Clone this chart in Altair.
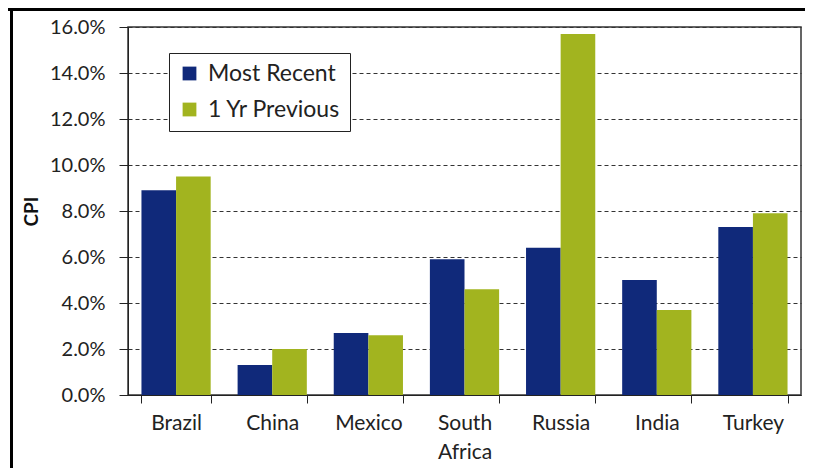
import altair as alt
import pandas as pd

countries = ["Brazil", "China", "Mexico", "South Africa", "Russia", "India", "Turkey"]
most_recent = [8.9, 1.3, 2.7, 5.9, 6.4, 5.0, 7.3]
one_yr_prev = [9.5, 2.0, 2.6, 4.6, 15.7, 3.7, 7.9]
series_names = ["Most Recent", "1 Yr Previous"]
y_ticks = [0, 2, 4, 6, 8, 10, 12, 14, 16]

rows = []
for c, a, b in zip(countries, most_recent, one_yr_prev):
    rows.append({"country": c, "series": series_names[0], "value": a / 100})
    rows.append({"country": c, "series": series_names[1], "value": b / 100})
df = pd.DataFrame(rows)

FONT = "Lato"
W, H = 673, 368

bars = alt.Chart(df).mark_bar().encode(
    x=alt.X("country:N", sort=countries,
            scale=alt.Scale(paddingInner=0.28, paddingOuter=0.14),
            axis=alt.Axis(title=None, labelAngle=0, labelFontSize=21, labelFont=FONT,
                          labelColor="#222222", labelPadding=9, tickSize=8,
                          tickBand="extent", tickColor="#222222", domainColor="#222222",
                          labelLineHeight=29,
                          labelExpr="split(datum.label, ' ')")),
    xOffset=alt.XOffset("series:N", sort=series_names, scale=alt.Scale(paddingInner=0, paddingOuter=0)),
    y=alt.Y("value:Q", scale=alt.Scale(domain=[0, 0.16], nice=False),
            axis=alt.Axis(title="CPI", format=".1%", values=[t / 100 for t in y_ticks],
                          labelFontSize=20, labelFont=FONT, labelColor="#222222",
                          titleFontSize=19, titleFont=FONT, titleFontWeight="bold",
                          titleColor="#111111", titlePadding=8,
                          tickSize=9, labelPadding=14, tickColor="#222222",
                          domainColor="#222222", grid=True, gridColor="#333333",
                          gridDash=[4, 3], gridWidth=1)),
    color=alt.Color("series:N", sort=series_names,
                    scale=alt.Scale(domain=series_names, range=["#10297a", "#a2b41f"]),
                    legend=alt.Legend(title=None, orient="none", legendX=41, legendY=26,
                                      symbolType="square", symbolSize=190,
                                      symbolStrokeWidth=0, labelFontSize=23,
                                      labelFont=FONT, labelColor="#222222",
                                      rowPadding=12, padding=9,
                                      strokeColor="#222222", fillColor="white",
                                      labelOffset=7)),
)

frame_df = pd.DataFrame({"k": [0]})
top_line = alt.Chart(frame_df).mark_rule(color="black", strokeWidth=3).encode(
    x=alt.value(-120), x2=alt.value(W + 4), y=alt.value(-17.5))
left_line = alt.Chart(frame_df).mark_rule(color="black", strokeWidth=3).encode(
    x=alt.value(-116.5), y=alt.value(-19), y2=alt.value(H + 73))

chart = alt.layer(bars, top_line, left_line).properties(
    width=W, height=H,
    autosize=alt.AutoSizeParams(type="none"),
    padding={"left": 120, "top": 19, "right": 4, "bottom": 73},
    background="white",
).configure_view(stroke="#333333", strokeWidth=1.5)

chart.save("out.html", embed_options={"renderer": "svg", "actions": False})
